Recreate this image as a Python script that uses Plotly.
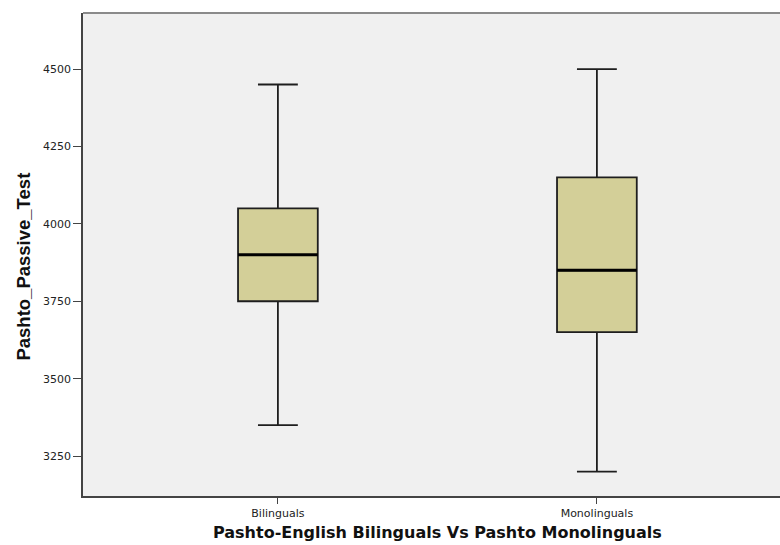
import plotly.graph_objects as go

# Group summaries for Pashto_Passive_Test
groups = ["Bilinguals", "Monolinguals"]
lower_whisker = [3350, 3200]
q1_vals = [3750, 3650]
median_vals = [3900, 3850]
q3_vals = [4050, 4150]
upper_whisker = [4450, 4500]

y_ticks = [3250, 3500, 3750, 4000, 4250, 4500]

box_width = 0.25
positions = list(range(len(groups)))

fig = go.Figure()

fig.add_trace(go.Box(
    x=positions,
    q1=q1_vals,
    median=median_vals,
    q3=q3_vals,
    lowerfence=lower_whisker,
    upperfence=upper_whisker,
    width=box_width,
    whiskerwidth=0.5,
    fillcolor="#D3CF98",
    line=dict(color="#1e1e1e", width=1.8),
    boxpoints=False,
    hoverinfo="skip",
    showlegend=False,
))

# Heavier median bars, as in SPSS box plots
for pos, med in zip(positions, median_vals):
    fig.add_trace(go.Scatter(
        x=[pos - box_width / 2, pos + box_width / 2],
        y=[med, med],
        mode="lines",
        line=dict(color="#000000", width=3),
        hoverinfo="skip",
        showlegend=False,
    ))

tick_font = dict(family="DejaVu Sans, Verdana, sans-serif", size=11, color="#222222")

fig.update_layout(
    width=780,
    height=545,
    margin=dict(l=83, r=0, t=13, b=49),
    paper_bgcolor="white",
    plot_bgcolor="#F0F0F0",
    font=dict(family="DejaVu Sans, Verdana, sans-serif", size=11, color="#333333"),
    xaxis=dict(
        range=[-0.611, 1.574],
        tickvals=positions,
        ticktext=groups,
        showgrid=False,
        zeroline=False,
        showline=True,
        linecolor="#444444",
        linewidth=1.5,
        ticks="outside",
        ticklen=6,
        tickcolor="#444444",
        tickfont=tick_font,
    ),
    yaxis=dict(
        range=[3121, 4681],
        tickvals=y_ticks,
        showgrid=False,
        zeroline=False,
        showline=True,
        linecolor="#444444",
        linewidth=1.5,
        ticks="outside",
        ticklen=8,
        tickcolor="#444444",
        tickfont=tick_font,
    ),
    shapes=[
        dict(type="line", xref="paper", yref="paper", x0=0, x1=1, y0=1, y1=1,
             line=dict(color="#8a8a8a", width=2)),
    ],
    annotations=[
        dict(text="<b>Pashto-English Bilinguals Vs Pashto Monolinguals</b>",
             xref="x", yref="paper", x=0.5, y=0, yshift=-25, yanchor="top",
             showarrow=False,
             font=dict(family="DejaVu Sans, Verdana, sans-serif", size=16, color="#111111")),
        dict(text="<b>Pashto_Passive_Test</b>",
             xref="paper", yref="paper", x=0, xshift=-72, y=0.474,
             textangle=-90, showarrow=False,
             font=dict(family="Liberation Sans, Arial, sans-serif", size=18.5, color="#111111")),
    ],
)

fig.write_html("out.html")
